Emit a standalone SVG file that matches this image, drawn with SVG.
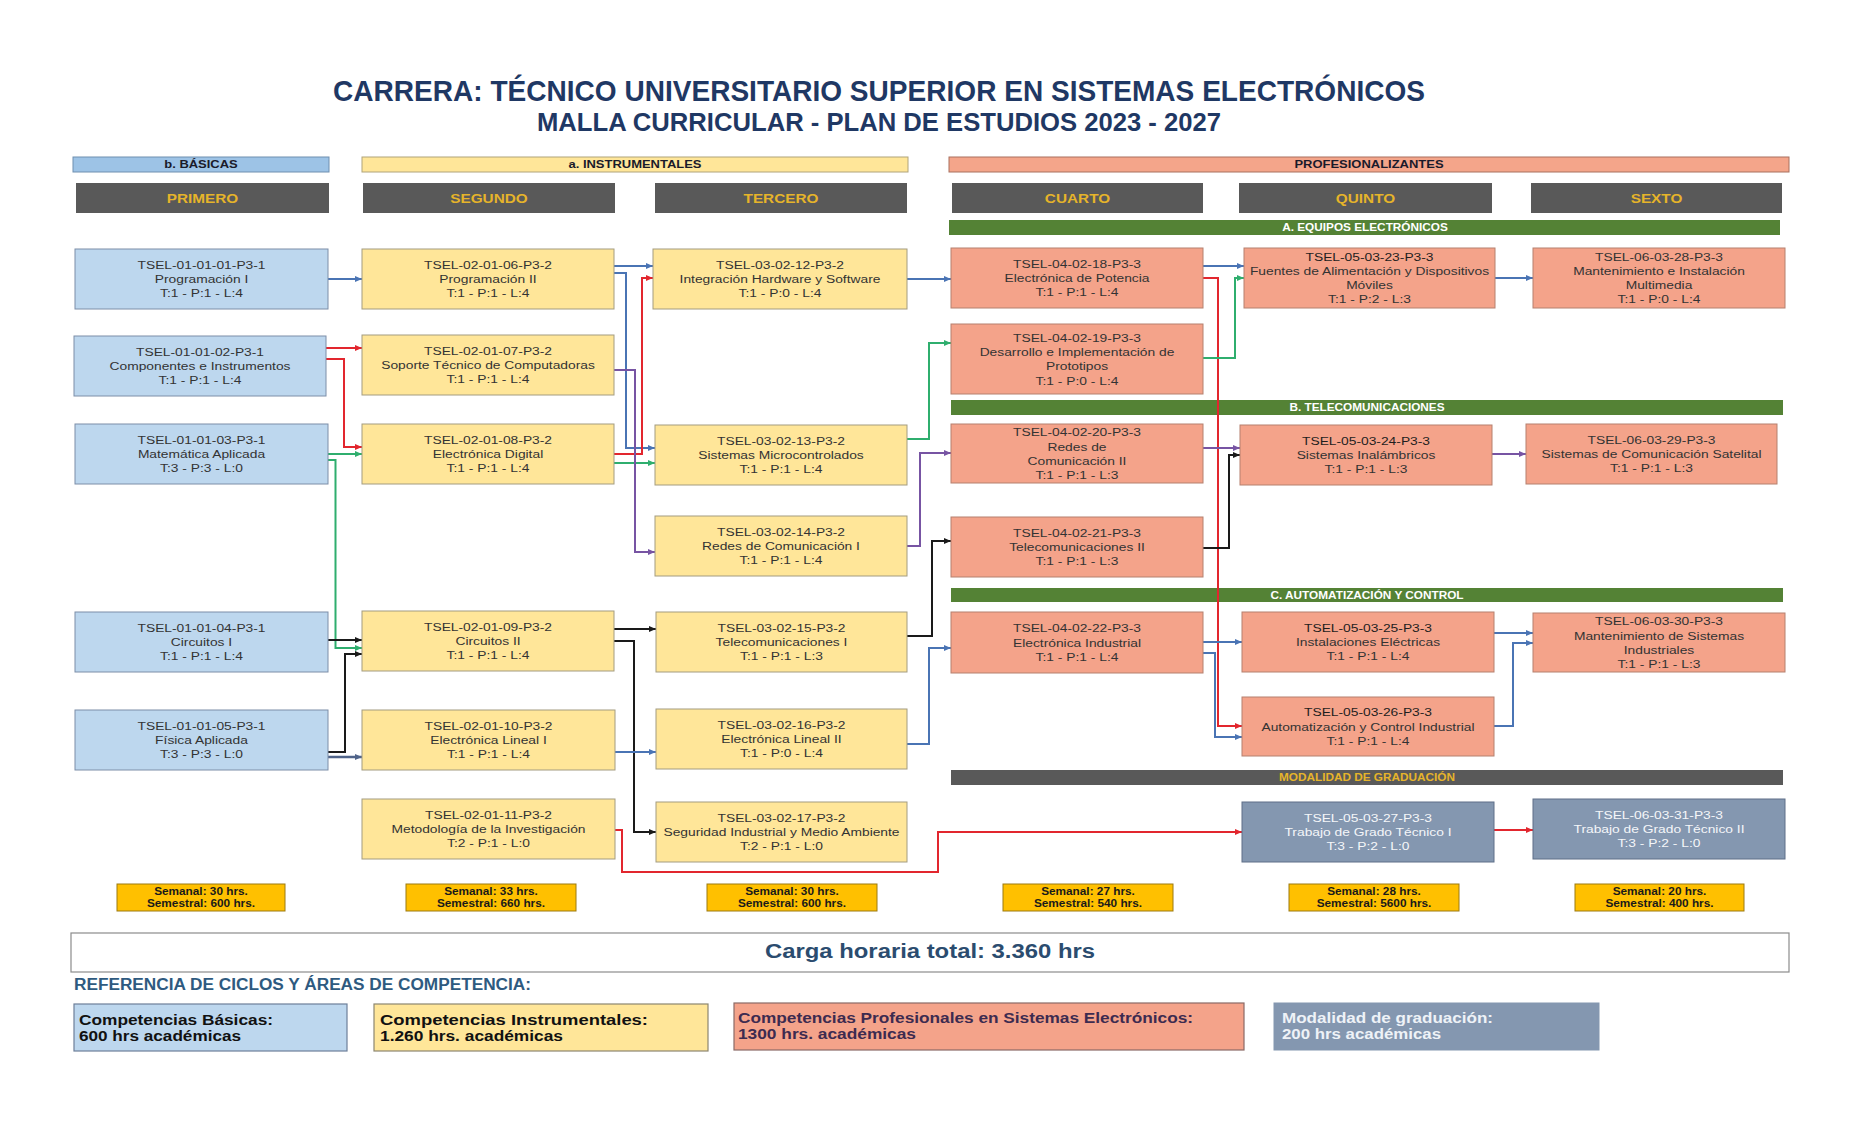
<svg xmlns="http://www.w3.org/2000/svg" width="1850" height="1126" viewBox="0 0 1850 1126">
<style>
.bg{fill:#ffffff}
.nb{fill:#bdd7ee;stroke:#7c8ea8;stroke-width:1}
.ny{fill:#ffe699;stroke:#a39c80;stroke-width:1}
.ns{fill:#f4a38a;stroke:#b5806f;stroke-width:1}
.ng{fill:#8497b0;stroke:#5e6f88;stroke-width:1}
.t{font-family:"Liberation Sans",Arial,sans-serif;font-size:11.7px;fill:#333333;text-anchor:middle}
.t5{fill:#1e1e1e}
.tw{fill:#f4f6f9}
.c{fill:none;stroke-width:2}
.cb{stroke:#4a74b4}
.cs{stroke:#50648a;stroke-width:2.4}
.cr{stroke:#e2262e}
.cg{stroke:#2fae6e}
.cp{stroke:#7754a3}
.ck{stroke:#1a1a1a}
.title{font-family:"Liberation Sans",Arial,sans-serif;font-weight:bold;fill:#1f3864}
.band{font-family:"Liberation Sans",Arial,sans-serif;font-weight:bold;font-size:11px;text-anchor:middle;fill:#1a1a2a}
.sem{fill:#595959}
.semt{font-family:"Liberation Sans",Arial,sans-serif;font-weight:bold;font-size:13px;text-anchor:middle;fill:#e6b42a}
.area{fill:#548235}
.areat{font-family:"Liberation Sans",Arial,sans-serif;font-weight:bold;font-size:10px;text-anchor:middle;fill:#ffffff}
.hrs{fill:#ffc000;stroke:#9c7a10;stroke-width:1}
.hrst{font-family:"Liberation Sans",Arial,sans-serif;font-weight:bold;font-size:10px;text-anchor:middle;fill:#1a1a1a}
.leg{font-family:"Liberation Sans",Arial,sans-serif;font-weight:bold;font-size:14px}
</style>
<defs>
<marker id="ab" markerWidth="7" markerHeight="6" refX="7" refY="3" orient="auto" markerUnits="userSpaceOnUse"><path d="M0,0 L7,3 L0,6 z" fill="#4a74b4"/></marker>
<marker id="as" markerWidth="7" markerHeight="6" refX="7" refY="3" orient="auto" markerUnits="userSpaceOnUse"><path d="M0,0 L7,3 L0,6 z" fill="#50648a"/></marker>
<marker id="ar" markerWidth="7" markerHeight="6" refX="7" refY="3" orient="auto" markerUnits="userSpaceOnUse"><path d="M0,0 L7,3 L0,6 z" fill="#e2262e"/></marker>
<marker id="ag" markerWidth="7" markerHeight="6" refX="7" refY="3" orient="auto" markerUnits="userSpaceOnUse"><path d="M0,0 L7,3 L0,6 z" fill="#2fae6e"/></marker>
<marker id="ap" markerWidth="7" markerHeight="6" refX="7" refY="3" orient="auto" markerUnits="userSpaceOnUse"><path d="M0,0 L7,3 L0,6 z" fill="#7754a3"/></marker>
<marker id="ak" markerWidth="7" markerHeight="6" refX="7" refY="3" orient="auto" markerUnits="userSpaceOnUse"><path d="M0,0 L7,3 L0,6 z" fill="#1a1a1a"/></marker>
</defs>
<rect class="bg" x="0" y="0" width="1850" height="1126"/>

<g id="title">
<text class="title" x="333" y="101" font-size="30" textLength="1092" lengthAdjust="spacingAndGlyphs">CARRERA: TÉCNICO UNIVERSITARIO SUPERIOR EN SISTEMAS ELECTRÓNICOS</text>
<text class="title" x="537" y="131" font-size="25" textLength="684" lengthAdjust="spacingAndGlyphs">MALLA CURRICULAR - PLAN DE ESTUDIOS 2023 - 2027</text>
</g>

<g id="bands">
<rect x="73" y="157" width="256" height="15" fill="#9dc3e6" stroke="#6f8fb0" stroke-width="1"/>
<g transform="translate(201 0) scale(1.18 1)"><text class="band" x="0" y="168.5">b. BÁSICAS</text></g>
<rect x="362" y="157" width="546" height="15" fill="#ffe699" stroke="#b0a47a" stroke-width="1"/>
<g transform="translate(635 0) scale(1.18 1)"><text class="band" x="0" y="168.5">a. INSTRUMENTALES</text></g>
<rect x="949" y="157" width="840" height="15" fill="#f4a58a" stroke="#a9705f" stroke-width="1"/>
<g transform="translate(1369 0) scale(1.18 1)"><text class="band" x="0" y="168.5">PROFESIONALIZANTES</text></g>
</g>

<g id="semesters">
<rect class="sem" x="76" y="183" width="253" height="30"/>
<g transform="translate(202.5 0) scale(1.18 1)"><text class="semt" x="0" y="203">PRIMERO</text></g>
<rect class="sem" x="363" y="183" width="252" height="30"/>
<g transform="translate(489 0) scale(1.18 1)"><text class="semt" x="0" y="203">SEGUNDO</text></g>
<rect class="sem" x="655" y="183" width="252" height="30"/>
<g transform="translate(781 0) scale(1.18 1)"><text class="semt" x="0" y="203">TERCERO</text></g>
<rect class="sem" x="952" y="183" width="251" height="30"/>
<g transform="translate(1077.5 0) scale(1.18 1)"><text class="semt" x="0" y="203">CUARTO</text></g>
<rect class="sem" x="1239" y="183" width="253" height="30"/>
<g transform="translate(1365.5 0) scale(1.18 1)"><text class="semt" x="0" y="203">QUINTO</text></g>
<rect class="sem" x="1531" y="183" width="251" height="30"/>
<g transform="translate(1656.5 0) scale(1.18 1)"><text class="semt" x="0" y="203">SEXTO</text></g>
</g>

<g id="areas">
<rect class="area" x="949" y="220" width="831" height="15"/>
<g transform="translate(1365 0) scale(1.18 1)"><text class="areat" x="0" y="231">A. EQUIPOS ELECTRÓNICOS</text></g>
<rect class="area" x="951" y="400" width="832" height="15"/>
<g transform="translate(1367 0) scale(1.18 1)"><text class="areat" x="0" y="411.5">B. TELECOMUNICACIONES</text></g>
<rect class="area" x="951" y="588" width="832" height="14"/>
<g transform="translate(1367 0) scale(1.18 1)"><text class="areat" x="0" y="598.8">C. AUTOMATIZACIÓN Y CONTROL</text></g>
<rect x="951" y="770" width="832" height="15" fill="#595959"/>
<g transform="translate(1367 0) scale(1.18 1)"><text class="areat" x="0" y="781.5" style="fill:#e6b42a">MODALIDAD DE GRADUACIÓN</text></g>
</g>

<g id="connectors">
<path class="c cb" d="M328 279 H362" marker-end="url(#ab)"/>
<path class="c cr" d="M326 348 H362" marker-end="url(#ar)"/>
<path class="c cr" d="M326 359 H344 V447 H362" marker-end="url(#ar)"/>
<path class="c cg" d="M328 454 H362" marker-end="url(#ag)"/>
<path class="c cg" d="M328 460 H335.5 V648 H362" marker-end="url(#ag)"/>
<path class="c ck" d="M328 640 H362" marker-end="url(#ak)"/>
<path class="c ck" d="M328 752 H345 V654 H362" marker-end="url(#ak)"/>
<path class="c cs" d="M328 757 H362" marker-end="url(#as)"/>
<path class="c cb" d="M614 266 H653" marker-end="url(#ab)"/>
<path class="c cb" d="M614 273 H626 V448 H655" marker-end="url(#ab)"/>
<path class="c cr" d="M614 454 H642 V278 H653" marker-end="url(#ar)"/>
<path class="c cg" d="M614 463 H655" marker-end="url(#ag)"/>
<path class="c cp" d="M614 370 H635 V552 H655" marker-end="url(#ap)"/>
<path class="c ck" d="M614 629 H656" marker-end="url(#ak)"/>
<path class="c ck" d="M614 641 H634 V832 H656" marker-end="url(#ak)"/>
<path class="c cb" d="M615 752 H656" marker-end="url(#ab)"/>
<path class="c cr" d="M615 830 H622 V872 H938 V832 H1242" marker-end="url(#ar)"/>
<path class="c cb" d="M907 279 H951" marker-end="url(#ab)"/>
<path class="c cg" d="M907 439 H929 V343 H951" marker-end="url(#ag)"/>
<path class="c cp" d="M907 546 H920 V453 H951" marker-end="url(#ap)"/>
<path class="c ck" d="M907 636 H932 V541 H951" marker-end="url(#ak)"/>
<path class="c cb" d="M907 744 H929 V648 H951" marker-end="url(#ab)"/>
<path class="c cb" d="M1203 266 H1244" marker-end="url(#ab)"/>
<path class="c cr" d="M1203 278 H1218 V726 H1242" marker-end="url(#ar)"/>
<path class="c cg" d="M1203 358 H1235 V278 H1244" marker-end="url(#ag)"/>
<path class="c cp" d="M1203 448 H1240" marker-end="url(#ap)"/>
<path class="c ck" d="M1203 548 H1229 V455 H1240" marker-end="url(#ak)"/>
<path class="c cb" d="M1203 642 H1242" marker-end="url(#ab)"/>
<path class="c cb" d="M1203 653 H1215 V737 H1242" marker-end="url(#ab)"/>
<path class="c cb" d="M1495 278 H1533" marker-end="url(#ab)"/>
<path class="c cp" d="M1492 454 H1526" marker-end="url(#ap)"/>
<path class="c cb" d="M1494 633 H1533" marker-end="url(#ab)"/>
<path class="c cb" d="M1494 726 H1513 V643 H1533" marker-end="url(#ab)"/>
<path class="c cr" d="M1494 830 H1533" marker-end="url(#ar)"/>
</g>

<g id="n01"><rect class="nb" x="75" y="249" width="253" height="60"/><g transform="translate(201.5 0) scale(1.18 1)"><text class="t"><tspan x="0" y="269">TSEL-01-01-01-P3-1</tspan><tspan x="0" y="283.2">Programación I</tspan><tspan x="0" y="297.4">T:1 - P:1 - L:4</tspan></text></g></g>
<g id="n02"><rect class="nb" x="74" y="336" width="252" height="60"/><g transform="translate(200 0) scale(1.18 1)"><text class="t"><tspan x="0" y="356">TSEL-01-01-02-P3-1</tspan><tspan x="0" y="370.2">Componentes e Instrumentos</tspan><tspan x="0" y="384.4">T:1 - P:1 - L:4</tspan></text></g></g>
<g id="n03"><rect class="nb" x="75" y="424" width="253" height="60"/><g transform="translate(201.5 0) scale(1.18 1)"><text class="t"><tspan x="0" y="444">TSEL-01-01-03-P3-1</tspan><tspan x="0" y="458.2">Matemática Aplicada</tspan><tspan x="0" y="472.4">T:3 - P:3 - L:0</tspan></text></g></g>
<g id="n04"><rect class="nb" x="75" y="612" width="253" height="60"/><g transform="translate(201.5 0) scale(1.18 1)"><text class="t"><tspan x="0" y="632">TSEL-01-01-04-P3-1</tspan><tspan x="0" y="646.2">Circuitos I</tspan><tspan x="0" y="660.4">T:1 - P:1 - L:4</tspan></text></g></g>
<g id="n05"><rect class="nb" x="75" y="710" width="253" height="60"/><g transform="translate(201.5 0) scale(1.18 1)"><text class="t"><tspan x="0" y="730">TSEL-01-01-05-P3-1</tspan><tspan x="0" y="744.2">Física Aplicada</tspan><tspan x="0" y="758.4">T:3 - P:3 - L:0</tspan></text></g></g>

<g id="n06"><rect class="ny" x="362" y="249" width="252" height="60"/><g transform="translate(488 0) scale(1.18 1)"><text class="t"><tspan x="0" y="269">TSEL-02-01-06-P3-2</tspan><tspan x="0" y="283.2">Programación II</tspan><tspan x="0" y="297.4">T:1 - P:1 - L:4</tspan></text></g></g>
<g id="n07"><rect class="ny" x="362" y="335" width="252" height="60"/><g transform="translate(488 0) scale(1.18 1)"><text class="t"><tspan x="0" y="355">TSEL-02-01-07-P3-2</tspan><tspan x="0" y="369.2">Soporte Técnico de Computadoras</tspan><tspan x="0" y="383.4">T:1 - P:1 - L:4</tspan></text></g></g>
<g id="n08"><rect class="ny" x="362" y="424" width="252" height="60"/><g transform="translate(488 0) scale(1.18 1)"><text class="t"><tspan x="0" y="444">TSEL-02-01-08-P3-2</tspan><tspan x="0" y="458.2">Electrónica Digital</tspan><tspan x="0" y="472.4">T:1 - P:1 - L:4</tspan></text></g></g>
<g id="n09"><rect class="ny" x="362" y="611" width="252" height="60"/><g transform="translate(488 0) scale(1.18 1)"><text class="t"><tspan x="0" y="631">TSEL-02-01-09-P3-2</tspan><tspan x="0" y="645.2">Circuitos II</tspan><tspan x="0" y="659.4">T:1 - P:1 - L:4</tspan></text></g></g>
<g id="n10"><rect class="ny" x="362" y="710" width="253" height="60"/><g transform="translate(488.5 0) scale(1.18 1)"><text class="t"><tspan x="0" y="730">TSEL-02-01-10-P3-2</tspan><tspan x="0" y="744.2">Electrónica Lineal I</tspan><tspan x="0" y="758.4">T:1 - P:1 - L:4</tspan></text></g></g>
<g id="n11"><rect class="ny" x="362" y="799" width="253" height="60"/><g transform="translate(488.5 0) scale(1.18 1)"><text class="t"><tspan x="0" y="819">TSEL-02-01-11-P3-2</tspan><tspan x="0" y="833.2">Metodología de la Investigación</tspan><tspan x="0" y="847.4">T:2 - P:1 - L:0</tspan></text></g></g>

<g id="n12"><rect class="ny" x="653" y="249" width="254" height="60"/><g transform="translate(780 0) scale(1.18 1)"><text class="t"><tspan x="0" y="269">TSEL-03-02-12-P3-2</tspan><tspan x="0" y="283.2">Integración Hardware y Software</tspan><tspan x="0" y="297.4">T:1 - P:0 - L:4</tspan></text></g></g>
<g id="n13"><rect class="ny" x="655" y="425" width="252" height="60"/><g transform="translate(781 0) scale(1.18 1)"><text class="t"><tspan x="0" y="445">TSEL-03-02-13-P3-2</tspan><tspan x="0" y="459.2">Sistemas Microcontrolados</tspan><tspan x="0" y="473.4">T:1 - P:1 - L:4</tspan></text></g></g>
<g id="n14"><rect class="ny" x="655" y="516" width="252" height="60"/><g transform="translate(781 0) scale(1.18 1)"><text class="t"><tspan x="0" y="536">TSEL-03-02-14-P3-2</tspan><tspan x="0" y="550.2">Redes de Comunicación I</tspan><tspan x="0" y="564.4">T:1 - P:1 - L:4</tspan></text></g></g>
<g id="n15"><rect class="ny" x="656" y="612" width="251" height="60"/><g transform="translate(781.5 0) scale(1.18 1)"><text class="t"><tspan x="0" y="632">TSEL-03-02-15-P3-2</tspan><tspan x="0" y="646.2">Telecomunicaciones I</tspan><tspan x="0" y="660.4">T:1 - P:1 - L:3</tspan></text></g></g>
<g id="n16"><rect class="ny" x="656" y="709" width="251" height="60"/><g transform="translate(781.5 0) scale(1.18 1)"><text class="t"><tspan x="0" y="729">TSEL-03-02-16-P3-2</tspan><tspan x="0" y="743.2">Electrónica Lineal II</tspan><tspan x="0" y="757.4">T:1 - P:0 - L:4</tspan></text></g></g>
<g id="n17"><rect class="ny" x="656" y="802" width="251" height="60"/><g transform="translate(781.5 0) scale(1.18 1)"><text class="t"><tspan x="0" y="822">TSEL-03-02-17-P3-2</tspan><tspan x="0" y="836.2">Seguridad Industrial y Medio Ambiente</tspan><tspan x="0" y="850.4">T:2 - P:1 - L:0</tspan></text></g></g>

<g id="n18"><rect class="ns" x="951" y="248" width="252" height="60"/><g transform="translate(1077 0) scale(1.18 1)"><text class="t"><tspan x="0" y="268">TSEL-04-02-18-P3-3</tspan><tspan x="0" y="282.2">Electrónica de Potencia</tspan><tspan x="0" y="296.4">T:1 - P:1 - L:4</tspan></text></g></g>
<g id="n19"><rect class="ns" x="951" y="324" width="252" height="70"/><g transform="translate(1077 0) scale(1.18 1)"><text class="t"><tspan x="0" y="341.9">TSEL-04-02-19-P3-3</tspan><tspan x="0" y="356.1">Desarrollo e Implementación de</tspan><tspan x="0" y="370.3">Prototipos</tspan><tspan x="0" y="384.5">T:1 - P:0 - L:4</tspan></text></g></g>
<g id="n20"><rect class="ns" x="951" y="424" width="252" height="59"/><g transform="translate(1077 0) scale(1.18 1)"><text class="t"><tspan x="0" y="436.4">TSEL-04-02-20-P3-3</tspan><tspan x="0" y="450.6">Redes de</tspan><tspan x="0" y="464.8">Comunicación II</tspan><tspan x="0" y="479">T:1 - P:1 - L:3</tspan></text></g></g>
<g id="n21"><rect class="ns" x="951" y="517" width="252" height="60"/><g transform="translate(1077 0) scale(1.18 1)"><text class="t"><tspan x="0" y="537">TSEL-04-02-21-P3-3</tspan><tspan x="0" y="551.2">Telecomunicaciones II</tspan><tspan x="0" y="565.4">T:1 - P:1 - L:3</tspan></text></g></g>
<g id="n22"><rect class="ns" x="951" y="612" width="252" height="61"/><g transform="translate(1077 0) scale(1.18 1)"><text class="t"><tspan x="0" y="632.5">TSEL-04-02-22-P3-3</tspan><tspan x="0" y="646.7">Electrónica Industrial</tspan><tspan x="0" y="660.9">T:1 - P:1 - L:4</tspan></text></g></g>

<g id="n23"><rect class="ns" x="1244" y="248" width="251" height="60"/><g transform="translate(1369.5 0) scale(1.18 1)"><text class="t"><tspan class="t5" x="0" y="260.9">TSEL-05-03-23-P3-3</tspan><tspan x="0" y="275.1">Fuentes de Alimentación y Dispositivos</tspan><tspan x="0" y="289.3">Móviles</tspan><tspan x="0" y="303.5">T:1 - P:2 - L:3</tspan></text></g></g>
<g id="n24"><rect class="ns" x="1240" y="425" width="252" height="60"/><g transform="translate(1366 0) scale(1.18 1)"><text class="t"><tspan class="t5" x="0" y="445">TSEL-05-03-24-P3-3</tspan><tspan x="0" y="459.2">Sistemas Inalámbricos</tspan><tspan x="0" y="473.4">T:1 - P:1 - L:3</tspan></text></g></g>
<g id="n25"><rect class="ns" x="1242" y="612" width="252" height="60"/><g transform="translate(1368 0) scale(1.18 1)"><text class="t"><tspan class="t5" x="0" y="632">TSEL-05-03-25-P3-3</tspan><tspan x="0" y="646.2">Instalaciones Eléctricas</tspan><tspan x="0" y="660.4">T:1 - P:1 - L:4</tspan></text></g></g>
<g id="n26"><rect class="ns" x="1242" y="697" width="252" height="59"/><g transform="translate(1368 0) scale(1.18 1)"><text class="t"><tspan class="t5" x="0" y="716.5">TSEL-05-03-26-P3-3</tspan><tspan x="0" y="730.7">Automatización y Control Industrial</tspan><tspan x="0" y="744.9">T:1 - P:1 - L:4</tspan></text></g></g>
<g id="n27"><rect class="ng" x="1242" y="802" width="252" height="60"/><g transform="translate(1368 0) scale(1.18 1)"><text class="t tw"><tspan x="0" y="822">TSEL-05-03-27-P3-3</tspan><tspan x="0" y="836.2">Trabajo de Grado Técnico I</tspan><tspan x="0" y="850.4">T:3 - P:2 - L:0</tspan></text></g></g>

<g id="n28"><rect class="ns" x="1533" y="248" width="252" height="60"/><g transform="translate(1659 0) scale(1.18 1)"><text class="t"><tspan x="0" y="260.9">TSEL-06-03-28-P3-3</tspan><tspan x="0" y="275.1">Mantenimiento e Instalación</tspan><tspan x="0" y="289.3">Multimedia</tspan><tspan x="0" y="303.5">T:1 - P:0 - L:4</tspan></text></g></g>
<g id="n29"><rect class="ns" x="1526" y="424" width="251" height="60"/><g transform="translate(1651.5 0) scale(1.18 1)"><text class="t"><tspan x="0" y="444">TSEL-06-03-29-P3-3</tspan><tspan x="0" y="458.2">Sistemas de Comunicación Satelital</tspan><tspan x="0" y="472.4">T:1 - P:1 - L:3</tspan></text></g></g>
<g id="n30"><rect class="ns" x="1533" y="613" width="252" height="59"/><g transform="translate(1659 0) scale(1.18 1)"><text class="t"><tspan x="0" y="625.4">TSEL-06-03-30-P3-3</tspan><tspan x="0" y="639.6">Mantenimiento de Sistemas</tspan><tspan x="0" y="653.8">Industriales</tspan><tspan x="0" y="668">T:1 - P:1 - L:3</tspan></text></g></g>
<g id="n31"><rect class="ng" x="1533" y="799" width="252" height="60"/><g transform="translate(1659 0) scale(1.18 1)"><text class="t tw"><tspan x="0" y="819">TSEL-06-03-31-P3-3</tspan><tspan x="0" y="833.2">Trabajo de Grado Técnico II</tspan><tspan x="0" y="847.4">T:3 - P:2 - L:0</tspan></text></g></g>

<g id="hours">
<rect class="hrs" x="117" y="884" width="168" height="27"/>
<g transform="translate(201 0) scale(1.18 1)"><text class="hrst"><tspan x="0" y="895">Semanal: 30 hrs.</tspan><tspan x="0" y="907">Semestral: 600 hrs.</tspan></text></g>
<rect class="hrs" x="406" y="884" width="170" height="27"/>
<g transform="translate(491 0) scale(1.18 1)"><text class="hrst"><tspan x="0" y="895">Semanal: 33 hrs.</tspan><tspan x="0" y="907">Semestral: 660 hrs.</tspan></text></g>
<rect class="hrs" x="707" y="884" width="170" height="27"/>
<g transform="translate(792 0) scale(1.18 1)"><text class="hrst"><tspan x="0" y="895">Semanal: 30 hrs.</tspan><tspan x="0" y="907">Semestral: 600 hrs.</tspan></text></g>
<rect class="hrs" x="1003" y="884" width="170" height="27"/>
<g transform="translate(1088 0) scale(1.18 1)"><text class="hrst"><tspan x="0" y="895">Semanal: 27 hrs.</tspan><tspan x="0" y="907">Semestral: 540 hrs.</tspan></text></g>
<rect class="hrs" x="1289" y="884" width="170" height="27"/>
<g transform="translate(1374 0) scale(1.18 1)"><text class="hrst"><tspan x="0" y="895">Semanal: 28 hrs.</tspan><tspan x="0" y="907">Semestral: 5600 hrs.</tspan></text></g>
<rect class="hrs" x="1575" y="884" width="169" height="27"/>
<g transform="translate(1659.5 0) scale(1.18 1)"><text class="hrst"><tspan x="0" y="895">Semanal: 20 hrs.</tspan><tspan x="0" y="907">Semestral: 400 hrs.</tspan></text></g>
</g>

<g id="total">
<rect x="71" y="933" width="1718" height="39" fill="#ffffff" stroke="#8c8c8c" stroke-width="1.2"/>
<text x="765" y="958" font-family="'Liberation Sans',Arial,sans-serif" font-weight="bold" font-size="20" fill="#2b4c6f" textLength="330" lengthAdjust="spacingAndGlyphs">Carga horaria total: 3.360 hrs</text>
</g>

<g id="legend">
<text x="74" y="990" font-family="'Liberation Sans',Arial,sans-serif" font-weight="bold" font-size="16" fill="#2e5a80" textLength="457" lengthAdjust="spacingAndGlyphs">REFERENCIA DE CICLOS Y ÁREAS DE COMPETENCIA:</text>
<rect x="74" y="1004" width="273" height="47" fill="#bdd7ee" stroke="#6d7f99" stroke-width="1.2"/>
<text class="leg" x="79" y="1024.5" fill="#111111" textLength="194" lengthAdjust="spacingAndGlyphs">Competencias Básicas:</text>
<text class="leg" x="79" y="1040.5" fill="#111111" textLength="162" lengthAdjust="spacingAndGlyphs">600 hrs académicas</text>
<rect x="374" y="1004" width="334" height="47" fill="#ffe699" stroke="#8c8670" stroke-width="1.2"/>
<text class="leg" x="380" y="1024.5" fill="#111111" textLength="268" lengthAdjust="spacingAndGlyphs">Competencias Instrumentales:</text>
<text class="leg" x="380" y="1040.5" fill="#111111" textLength="183" lengthAdjust="spacingAndGlyphs">1.260 hrs. académicas</text>
<rect x="734" y="1003" width="510" height="47" fill="#f4a38a" stroke="#8a6a66" stroke-width="1.2"/>
<text class="leg" x="738" y="1022.5" fill="#3d2b50" textLength="455" lengthAdjust="spacingAndGlyphs">Competencias Profesionales en Sistemas Electrónicos:</text>
<text class="leg" x="738" y="1038.5" fill="#3d2b50" textLength="178" lengthAdjust="spacingAndGlyphs">1300 hrs. académicas</text>
<rect x="1274" y="1003" width="325" height="47" fill="#8497b0" stroke="#8497b0" stroke-width="1"/>
<text class="leg" x="1282" y="1022.5" fill="#eef2f7" textLength="211" lengthAdjust="spacingAndGlyphs">Modalidad de graduación:</text>
<text class="leg" x="1282" y="1038.5" fill="#eef2f7" textLength="159" lengthAdjust="spacingAndGlyphs">200 hrs académicas</text>
</g>
</svg>
